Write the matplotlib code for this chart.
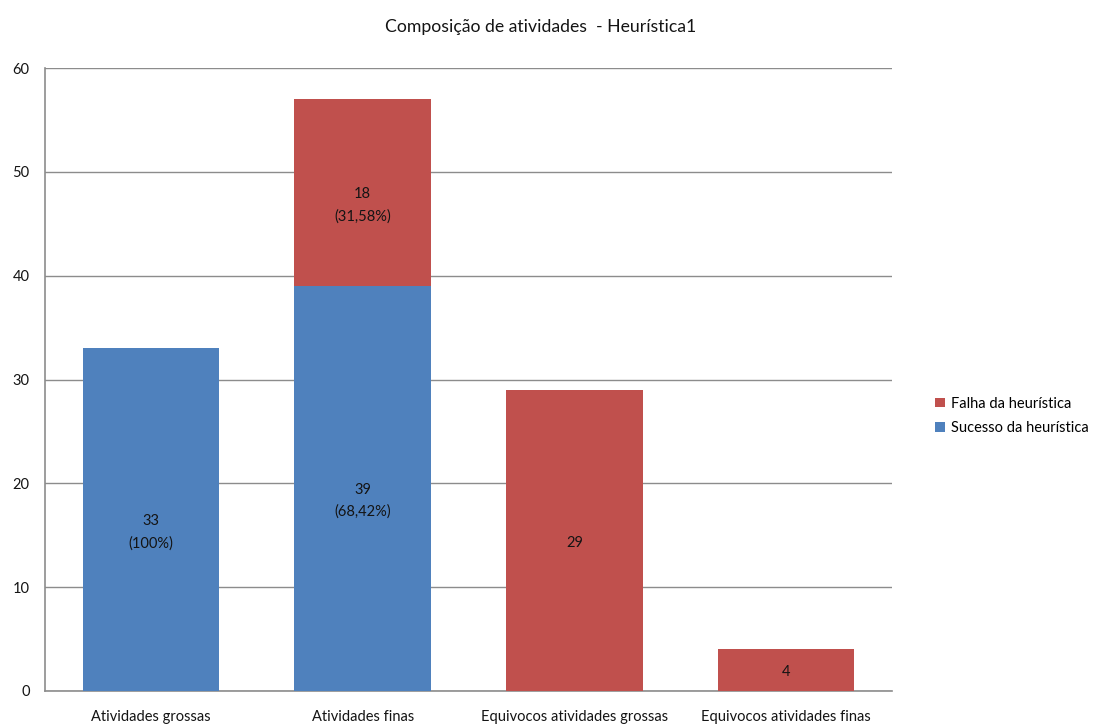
import matplotlib
matplotlib.use("Agg")
import matplotlib.pyplot as plt
import numpy as np

plt.rcParams['font.family'] = ['Lato', 'DejaVu Sans']

categories = ["Atividades grossas", "Atividades finas",
              "Equivocos atividades grossas", "Equivocos atividades finas"]
sucesso = [33, 39, 0, 0]
falha = [0, 18, 29, 4]
sucesso_labels = ["33\n(100%)", "39\n(68,42%)", "", ""]
falha_labels = ["", "18\n(31,58%)", "29", "4"]

blue = "#4F81BD"
red = "#C0504D"
txt = "#141414"

fig = plt.figure(figsize=(10.98, 7.27), dpi=100)
ax = fig.add_axes([45 / 1098, 1 - 691 / 727, (892 - 45) / 1098, (691 - 68) / 727])

x = np.arange(len(categories))
w = 0.645
ax.bar(x, sucesso, w, color=blue, label="Sucesso da heurística", zorder=3)
ax.bar(x, falha, w, bottom=sucesso, color=red, label="Falha da heurística", zorder=3)


def put_label(xc, yc, s):
    # two-line labels sit a little below the segment centre
    dy = -9 if "\n" in s else -1.5
    ax.annotate(s, (xc, yc), xytext=(0, dy), textcoords="offset points",
                ha="center", va="center", fontsize=10.5, color=txt,
                zorder=4, linespacing=1.7)


for i in range(len(categories)):
    if sucesso_labels[i]:
        put_label(x[i], sucesso[i] / 2, sucesso_labels[i])
    if falha_labels[i]:
        put_label(x[i], sucesso[i] + falha[i] / 2, falha_labels[i])

ax.set_xlim(-0.5, len(categories) - 0.5)
ax.set_ylim(0, 60)
ax.set_yticks(range(0, 61, 10))
ax.yaxis.grid(True, color="#8c8c8c", linewidth=1.0, zorder=0)
ax.set_axisbelow(True)
for s in ["top", "right"]:
    ax.spines[s].set_visible(False)
ax.spines["left"].set_color("#8c8c8c")
ax.spines["bottom"].set_color("#8c8c8c")
ax.spines["left"].set_linewidth(1.2)
ax.spines["bottom"].set_linewidth(1.2)
ax.tick_params(axis="y", length=0, pad=11, labelsize=10.5, labelcolor=txt)
ax.tick_params(axis="x", length=0, pad=14, labelsize=10.5, labelcolor=txt)
ax.set_xticks(x)
ax.set_xticklabels(categories)

fig.text(541 / 1098, 1 - 27 / 727, "Composição de atividades  - Heurística1",
         ha="center", va="center", fontsize=12.7, color=txt)

handles, labels = ax.get_legend_handles_labels()
fig.legend(handles[::-1], labels[::-1], loc="center left",
           bbox_to_anchor=(922 / 1098, 1 - 416 / 727), frameon=False,
           fontsize=10.5, handlelength=0.65, handleheight=0.65, handletextpad=0.45,
           labelspacing=0.75)

fig.savefig("out.png", dpi=100)
